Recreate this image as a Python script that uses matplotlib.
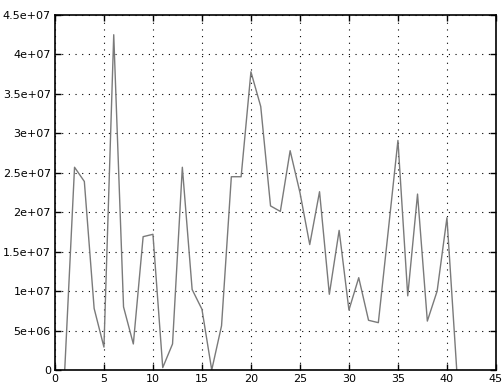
import numpy as np
import matplotlib.pyplot as plt
from matplotlib.ticker import FuncFormatter

# data
x = np.arange(1, 42)
y = [0, 25.7e6, 23.9e6, 7.8e6, 2.9e6, 42.5e6, 8.0e6, 3.3e6, 16.9e6, 17.2e6,
     0.3e6, 3.3e6, 25.7e6, 10.2e6, 7.7e6, 0, 5.6e6, 24.5e6, 24.5e6, 37.8e6,
     33.4e6, 20.8e6, 20.1e6, 27.8e6, 22.5e6, 15.9e6, 22.6e6, 9.6e6, 17.7e6, 7.6e6,
     11.7e6, 6.3e6, 6.0e6, 17.5e6, 29.1e6, 9.4e6, 22.3e6, 6.2e6, 10.0e6, 19.3e6,
     0]

xticks = np.arange(0, 50, 5)
yticks = np.arange(0, 4.6e7, 5e6)

fig = plt.figure(figsize=(5.04, 3.85), dpi=100)
ax = fig.add_axes([0.109, 0.039, 0.875, 0.922])

ax.plot(x, y, color='#7a7a7a', lw=1.0)

ax.set_xlim(0, 45)
ax.set_ylim(0, 4.5e7)
ax.set_xticks(xticks)
ax.set_yticks(yticks)
ax.yaxis.set_major_formatter(FuncFormatter(lambda v, p: '%g' % v))

ax.grid(True, color='black', linestyle=(0, (1, 5)), lw=0.8)
ax.tick_params(direction='in', top=True, right=True, length=4, width=1,
               labelsize=8, pad=3)
for s in ax.spines.values():
    s.set_linewidth(1.2)

fig.savefig('out.png', dpi=100)
